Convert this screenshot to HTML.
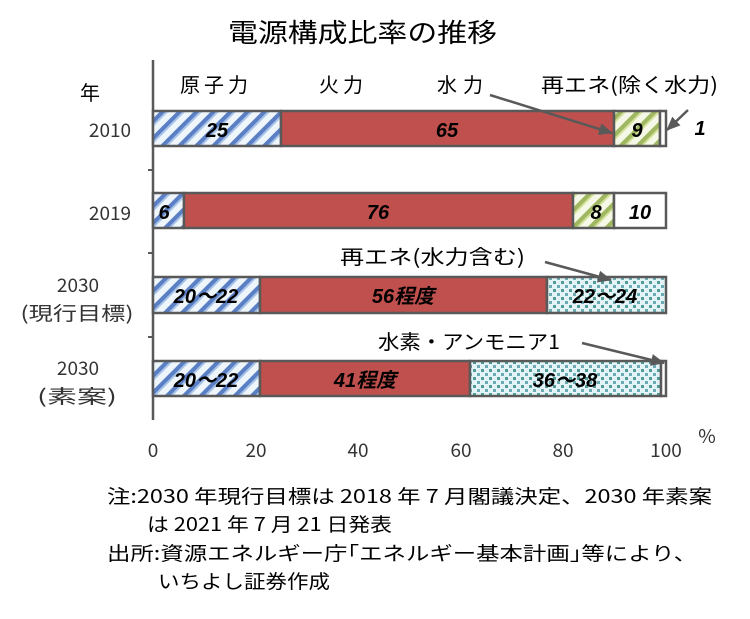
<!DOCTYPE html>
<html><head><meta charset="utf-8"><style>
body{margin:0;background:#fff}
svg text{font-family:"Noto Sans CJK JP","Liberation Sans",sans-serif}
.b{font-family:"Liberation Sans","Noto Sans CJK JP",sans-serif !important;font-weight:bold;font-style:italic;font-size:20px}
</style></head><body>
<svg width="750" height="614" viewBox="0 0 750 614">
<defs>
<pattern id="blue" patternUnits="userSpaceOnUse" width="12" height="12" patternTransform="rotate(45)">
<rect width="12" height="12" fill="#eef6fb"/><rect width="4" height="12" fill="#5b7fc4"/><rect x="4" width="2" height="12" fill="#a9c4e8"/>
</pattern>
<pattern id="green" patternUnits="userSpaceOnUse" width="12" height="12" patternTransform="rotate(45)">
<rect width="12" height="12" fill="#f5f8e6"/><rect width="4" height="12" fill="#9fb760"/><rect x="4" width="2" height="12" fill="#d3e09a"/>
</pattern>
<pattern id="dots" patternUnits="userSpaceOnUse" width="8" height="8">
<rect width="8" height="8" fill="#e4f4f6"/><rect x="1" y="1" width="3" height="3" fill="#4f9a9a"/><rect x="5" y="5" width="3" height="3" fill="#6aaab0"/>
</pattern>
<marker id="ar" markerWidth="14" markerHeight="12" refX="13" refY="6" orient="auto" markerUnits="userSpaceOnUse"><path d="M0,0 L14,6 L0,12 z" fill="#595959"/></marker>
</defs>
<text x="228" y="42" font-size="26" textLength="269" lengthAdjust="spacingAndGlyphs">電源構成比率の推移</text>
<text x="80" y="100" font-size="20">年</text>
<text x="180" y="92" font-size="20" textLength="68">原子力</text>
<text x="319" y="92" font-size="20" textLength="44">火力</text>
<text x="437" y="92" font-size="20" textLength="46">水力</text>
<text x="541" y="92" font-size="20" textLength="177" lengthAdjust="spacingAndGlyphs">再エネ(除く水力)</text>
<line x1="153" y1="60" x2="153" y2="420" stroke="#595959" stroke-width="2.5"/>
<line x1="148" y1="170" x2="153" y2="170" stroke="#595959" stroke-width="2"/>
<line x1="148" y1="253" x2="153" y2="253" stroke="#595959" stroke-width="2"/>
<line x1="148" y1="337" x2="153" y2="337" stroke="#595959" stroke-width="2"/>
<g stroke="#595959" stroke-width="2.5">
<rect x="153" y="111" width="128" height="35" fill="url(#blue)"/>
<rect x="281" y="111" width="333" height="35" fill="#c0504d"/>
<rect x="614" y="111" width="46" height="35" fill="url(#green)"/>
<rect x="660" y="111" width="6" height="35" fill="#fff"/>
<rect x="153" y="193" width="31" height="35" fill="url(#blue)"/>
<rect x="184" y="193" width="389" height="35" fill="#c0504d"/>
<rect x="573" y="193" width="41" height="35" fill="url(#green)"/>
<rect x="614" y="193" width="52" height="35" fill="#fff"/>
<rect x="153" y="277" width="107" height="36" fill="url(#blue)"/>
<rect x="260" y="277" width="287" height="36" fill="#c0504d"/>
<rect x="547" y="277" width="119" height="36" fill="url(#dots)"/>
<rect x="153" y="361" width="107" height="35" fill="url(#blue)"/>
<rect x="260" y="361" width="210" height="35" fill="#c0504d"/>
<rect x="470" y="361" width="191" height="35" fill="url(#dots)"/>
<rect x="661" y="361" width="5" height="35" fill="#fff"/>
</g>
<text class="b" x="217" y="137" text-anchor="middle">25</text>
<text class="b" x="447" y="137" text-anchor="middle">65</text>
<text class="b" x="637" y="137" text-anchor="middle">9</text>
<text class="b" x="700" y="135" text-anchor="middle">1</text>
<text class="b" x="164" y="219" text-anchor="middle">6</text>
<text class="b" x="378" y="219" text-anchor="middle">76</text>
<text class="b" x="596" y="219" text-anchor="middle">8</text>
<text class="b" x="640" y="219" text-anchor="middle">10</text>
<text class="b" x="206" y="303" text-anchor="middle">20～22</text>
<text class="b" x="403" y="303" text-anchor="middle">56程度</text>
<text class="b" x="605" y="303" text-anchor="middle">22～24</text>
<text class="b" x="206" y="387" text-anchor="middle">20～22</text>
<text class="b" x="365" y="387" text-anchor="middle">41程度</text>
<text class="b" x="565" y="387" text-anchor="middle">36～38</text>
<g stroke="#595959" stroke-width="2.5" fill="none">
<line x1="490" y1="95" x2="612" y2="133" marker-end="url(#ar)"/>
<line x1="688" y1="110" x2="667" y2="130" marker-end="url(#ar)"/>
<line x1="545" y1="262" x2="611" y2="280" marker-end="url(#ar)"/>
<line x1="582" y1="343" x2="664" y2="363" marker-end="url(#ar)"/>
</g>
<text x="340" y="264" font-size="20" textLength="185" lengthAdjust="spacingAndGlyphs">再エネ(水力含む)</text>
<text x="378" y="349" font-size="20" textLength="182" lengthAdjust="spacingAndGlyphs">水素・アンモニア1</text>
<g font-size="19" fill="#333" text-anchor="middle">
<text x="110" y="137">2010</text>
<text x="110" y="220">2019</text>
<text x="78" y="292">2030</text>
<text x="77" y="320" textLength="113" lengthAdjust="spacingAndGlyphs">(現行目標)</text>
<text x="78" y="375">2030</text>
<text x="77" y="403" textLength="80" lengthAdjust="spacingAndGlyphs">(素案)</text>
</g>
<g font-size="19" fill="#333" text-anchor="middle">
<text x="153" y="457">0</text><text x="256" y="457">20</text><text x="358" y="457">40</text><text x="461" y="457">60</text><text x="563" y="457">80</text><text x="666" y="457">100</text>
<text x="707" y="443">%</text>
</g>
<g font-size="19" fill="#000">
<text x="107" y="503" textLength="605" lengthAdjust="spacingAndGlyphs">注:2030 年現行目標は 2018 年 7 月閣議決定、2030 年素案</text>
<text x="147" y="531" textLength="245" lengthAdjust="spacingAndGlyphs">は 2021 年 7 月 21 日発表</text>
<text x="107" y="560" textLength="590" lengthAdjust="spacingAndGlyphs">出所:資源エネルギー庁｢エネルギー基本計画｣等により、</text>
<text x="158" y="588" textLength="172" lengthAdjust="spacingAndGlyphs">いちよし証券作成</text>
</g>
</svg>
</body></html>
